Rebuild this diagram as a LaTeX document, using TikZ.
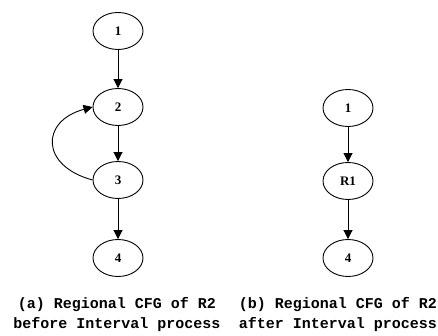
\documentclass[tikz,border=0pt]{standalone}
\usepackage{fontspec}
\setmainfont{Liberation Serif}
\newfontfamily\capfont{Liberation Mono}
\usetikzlibrary{shapes.geometric,arrows.meta}

\tikzset{
	block/.style={draw, ellipse, line width=0.9pt, minimum width=50pt, minimum height=37pt, inner sep=0pt, font=\bfseries\fontsize{13}{13}\selectfont},
	edge/.style={line width=0.9pt, -{Triangle[length=9pt,width=9pt]}},
	caption/.style={align=center, font=\capfont\bfseries\fontsize{15}{20}\selectfont}
}

\begin{document}
\begin{tikzpicture}[x=1pt,y=-1pt]
		\useasboundingbox (0,0) rectangle (438,336);

		% (a) before
		\node[block] (a1) at (118,31) {1};
		\node[block] (a2) at (118,107) {2};
		\node[block] (a3) at (118,180) {3};
		\node[block] (a4) at (118,258) {4};

		\draw[edge] (a1) -- (a2);
		\draw[edge] (a2) -- (a3);
		\draw[edge] (a3) -- (a4);
		\draw[edge] (a3.west) to[out=165, in=195, looseness=1.9] (a2.west);

		% (b) after
		\node[block] (b1) at (348,108) {1};
		\node[block] (bR) at (348,181) {R1};
		\node[block] (b4) at (348,258) {4};

		\draw[edge] (b1) -- (bR);
		\draw[edge] (bR) -- (b4);

		\node[caption] (capa) at (117,315) {(a) Regional CFG of R2\\before Interval process};
		\node[caption] (capb) at (338,315) {(b) Regional CFG of R2\\after Interval process};
	\end{tikzpicture}
\end{document}
